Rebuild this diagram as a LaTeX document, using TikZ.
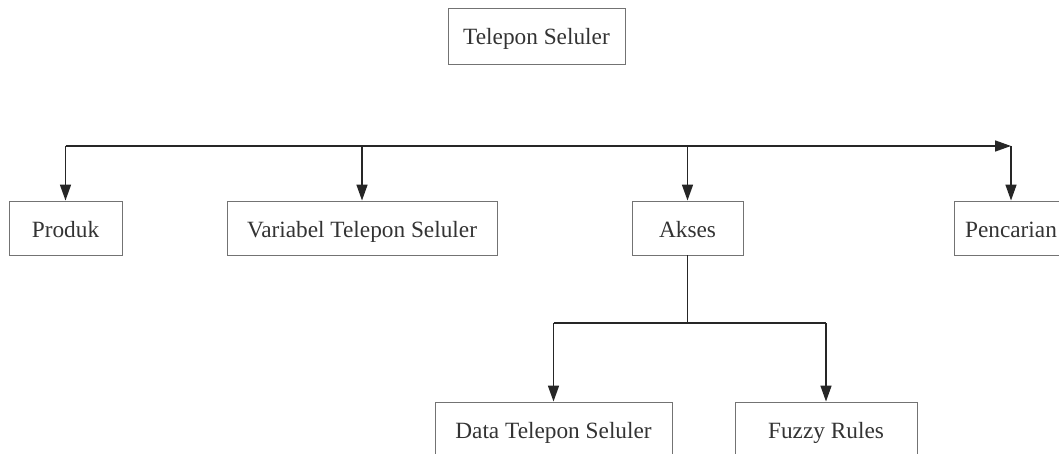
\documentclass[tikz,border=0pt]{standalone}
\usepackage{fontspec}
\setmainfont{Liberation Serif}
\usetikzlibrary{arrows.meta}
\begin{document}
\begin{tikzpicture}[x=1pt,y=-1pt,
  box/.style={draw=black!55, line width=0.9pt, text=black!80, inner sep=0pt,
    text height=21pt, text depth=3pt,
    font=\fontsize{23.3pt}{28pt}\selectfont},
  link/.style={draw=black!85, line width=1.6pt},
  arr/.style={link, -{Triangle[length=16pt,width=11pt]}}]
\useasboundingbox (0,0) rectangle (1059,454);
\clip (0,0) rectangle (1059,454);

% root
\node[box, minimum width=177pt, minimum height=56pt] (root) at (536.5,36) {Telepon Seluler};

% first level
\node[box, minimum width=113pt, minimum height=54pt] (produk)    at (65.5,228)  {Produk};
\node[box, minimum width=270pt, minimum height=54pt] (variabel)  at (362,228)   {Variabel Telepon Seluler};
\node[box, minimum width=111pt, minimum height=54pt] (akses)     at (687.5,228) {Akses};
\node[box, minimum width=114pt, minimum height=54pt] (pencarian) at (1011,228)  {Pencarian};

% second level under Akses
\node[box, minimum width=237pt, minimum height=55pt] (data)  at (553.5,429.5) {Data Telepon Seluler};
\node[box, minimum width=182pt, minimum height=55pt] (fuzzy) at (826,429.5)   {Fuzzy Rules};

% upper bus
\coordinate (bus) at (0,146);
\draw[arr] (produk.north |- bus) -- (pencarian.north |- bus);
\draw[arr] (produk.north |- bus) -- (produk.north);
\draw[arr] (variabel.north |- bus) -- (variabel.north);
\draw[arr] (akses.north |- bus) -- (akses.north);
\draw[arr] (pencarian.north |- bus) -- (pencarian.north);

% lower bus from Akses
\coordinate (lbus) at (0,323);
\draw[link] (akses.south) -- (akses.south |- lbus);
\draw[link] (data.north |- lbus) -- (fuzzy.north |- lbus);
\draw[arr] (data.north |- lbus) -- (data.north);
\draw[arr] (fuzzy.north |- lbus) -- (fuzzy.north);
\end{tikzpicture}
\end{document}
